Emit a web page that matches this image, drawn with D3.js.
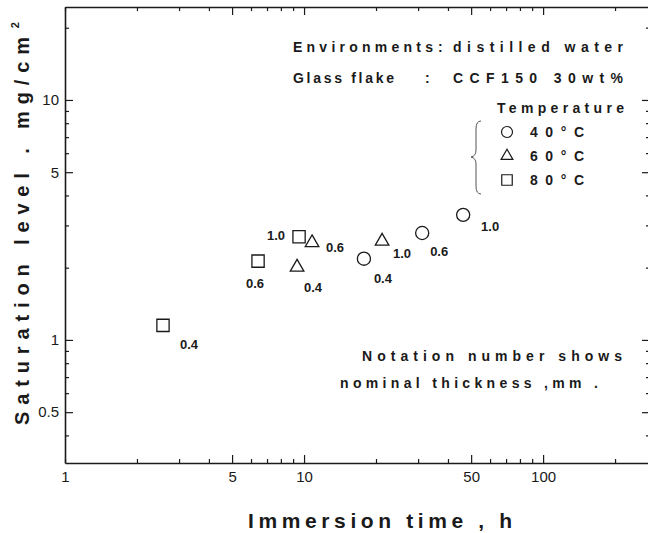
<!DOCTYPE html>
<html><head><meta charset="utf-8">
<script src="https://cdn.jsdelivr.net/npm/d3@7"></script>
<style>
html,body{margin:0;padding:0;background:#fff;overflow:hidden}
svg{display:block}
</style></head><body>
<svg id="chart" width="648" height="533"></svg>
<script>
// ---------------- data ----------------
const xTickValues = [1,2,3,4,5,6,7,8,9,10,20,30,40,50,60,70,80,90,100,200];
const xTickLabels = [1,5,10,50,100];
const yTickValues = [0.4,0.5,0.6,0.7,0.8,0.9,1,2,3,4,5,6,7,8,9,10,20];
const yTickLabels = [0.5,1,5,10];
const temperatures = ["40°C","60°C","80°C"];
const thickness = ["0.4","0.6","1.0"];
const time40 = [17.8, 31.2, 46.3];
const sat40  = [2.18, 2.79, 3.32];
const time60 = [9.35, 10.8, 21.2];
const sat60  = [2.01, 2.54, 2.58];
const time80 = [2.57, 6.42, 9.53];
const sat80  = [1.15, 2.13, 2.69];
const xTitle = "Immersion time , h";
const yTitleMain = "Saturation level . mg/cm";
const yTitleSup = "2";
const noteLines = ["Notation number shows", "nominal thickness ,mm ."];

// ---------------- layout ----------------
const svg = d3.select("#chart");
const ink = "#1a1a1a";
const x = d3.scaleLog().domain([1, 280]).range([65, 650]);
const y = d3.scaleLog().domain([0.307, 24.4]).range([463, 7]);
const xMajor = [5,10,50,100];
const yMajor = [0.5,1,5,10];

function styleAxis(g, majors, horizontal, sign){
  g.select(".domain").attr("stroke", ink).attr("stroke-width", 1.6);
  g.selectAll(".tick line").attr("stroke", ink).attr("stroke-width", 1.2)
    .each(function(d){
      const len = majors.includes(d) ? 8 : 4;
      d3.select(this).attr(horizontal ? "y2" : "x2", sign*len);
    });
  g.selectAll(".tick text").attr("fill", ink)
    .style("font-family", "'Liberation Sans', Arial, sans-serif")
    .style("font-size", "15px");
}

const fmt = d => (d < 1 ? d3.format(".1f")(d) : String(d));

const gx = svg.append("g").attr("transform", `translate(0,${y.range()[0]})`)
  .call(d3.axisBottom(x).tickValues(xTickValues).tickSizeOuter(0).tickSizeInner(-4).tickPadding(8)
    .tickFormat(d => xTickLabels.includes(d) ? fmt(d) : ""));
styleAxis(gx, xMajor, true, -1);

const gxt = svg.append("g").attr("transform", `translate(0,${y.range()[1]})`)
  .call(d3.axisTop(x).tickValues(xTickValues).tickSizeOuter(0).tickSizeInner(-4).tickFormat(""));
styleAxis(gxt, xMajor, true, 1);

const gy = svg.append("g").attr("transform", `translate(${x.range()[0]},0)`)
  .call(d3.axisLeft(y).tickValues(yTickValues).tickSizeOuter(0).tickSizeInner(-4).tickPadding(6)
    .tickFormat(d => yTickLabels.includes(d) ? fmt(d) : ""));
styleAxis(gy, yMajor, false, 1);

const gyr = svg.append("g").attr("transform", `translate(${x.range()[1]},0)`)
  .call(d3.axisRight(y).tickValues(yTickValues).tickSizeOuter(0).tickSizeInner(-4).tickFormat(""));
styleAxis(gyr, yMajor, false, -1);

// ---------------- markers ----------------
const shapes = [d3.symbolCircle, d3.symbolTriangle, d3.symbolSquare];
const sizes = [135, 80, 150];
const seriesTimes = [time40, time60, time80];
const seriesSats = [sat40, sat60, sat80];
// label offsets (dx, dy) relative to each marker: [series][point]
const labelOffsets = [
  [[19,20],[17,19],[27,12]],
  [[16,20],[23,5],[20,12]],
  [[26,19],[-3,22],[-23,-1]]
];
const bold = "'Liberation Sans', Arial, Helvetica, sans-serif";

seriesTimes.forEach((ts, s) => {
  const pts = ts.map((t, i) => ({t, v: seriesSats[s][i], lab: thickness[i], off: labelOffsets[s][i]}));
  const g = svg.append("g");
  g.selectAll("path").data(pts).join("path")
    .attr("transform", d => `translate(${x(d.t)},${y(d.v)})`)
    .attr("d", d3.symbol().type(shapes[s]).size(sizes[s]))
    .attr("fill", "none").attr("stroke", ink).attr("stroke-width", 1.3);
  g.selectAll("text").data(pts).join("text")
    .attr("x", d => x(d.t) + d.off[0]).attr("y", d => y(d.v) + d.off[1])
    .attr("text-anchor", "middle").attr("dominant-baseline", "central")
    .style("font-family", bold).style("font-weight", "bold").style("font-size", "13px")
    .attr("fill", ink).text(d => d.lab);
});

// ---------------- annotation ----------------
function txt(str, x0, yc, len, size){
  return svg.append("text").attr("x", x0).attr("y", yc).attr("dominant-baseline", "central")
    .attr("textLength", len).attr("lengthAdjust", "spacing")
    .style("font-family", bold).style("font-weight", "bold").style("font-size", size + "px")
    .attr("fill", ink).text(str);
}
const fs = 14;
txt("Environments", 293, 47, 140, fs);
txt(":", 438, 47, 4, fs);
txt("distilled water", 453, 47, 170, fs);
txt("Glass flake", 293, 78, 101, fs);
txt(":", 425, 78, 4, fs);
txt("CCF150 30wt%", 453, 78, 170, fs);
txt("Temperature", 497, 108, 127, fs);
temperatures.forEach((tp, i) => {
  const yy = [132, 156, 180][i];
  svg.append("path").attr("transform", `translate(507,${yy})`)
    .attr("d", d3.symbol().type(shapes[i]).size([95, 60, 110][i]))
    .attr("fill", "none").attr("stroke", ink).attr("stroke-width", 1.2);
  txt(tp, 530, yy, 54, fs);
});
svg.append("path")
  .attr("d", "M481,121 Q476,121 476,129 L476,150 Q476,156 471,157 Q476,158 476,164 L476,186 Q476,194 481,194")
  .attr("fill", "none").attr("stroke", "#555").attr("stroke-width", 1);

txt(noteLines[0], 362, 356, 260, fs);
txt(noteLines[1], 340, 383, 258, fs);

// ---------------- axis titles ----------------
svg.append("text").attr("x", 380).attr("y", 520).attr("text-anchor", "middle")
  .attr("dominant-baseline", "central").attr("textLength", 264).attr("lengthAdjust", "spacing")
  .style("font-family", bold).style("font-weight", "bold").style("font-size", "21px")
  .attr("fill", ink).text(xTitle);

const yt = svg.append("text").attr("transform", "translate(29,425) rotate(-90)")
  .style("font-family", bold).style("font-weight", "bold").style("font-size", "20px")
  .attr("fill", ink);
yt.append("tspan").attr("textLength", 388).attr("lengthAdjust", "spacing").text(yTitleMain);
yt.append("tspan").attr("dx", 2).attr("dy", -10).style("font-size", "11px").text(yTitleSup);
</script>
</body></html>
